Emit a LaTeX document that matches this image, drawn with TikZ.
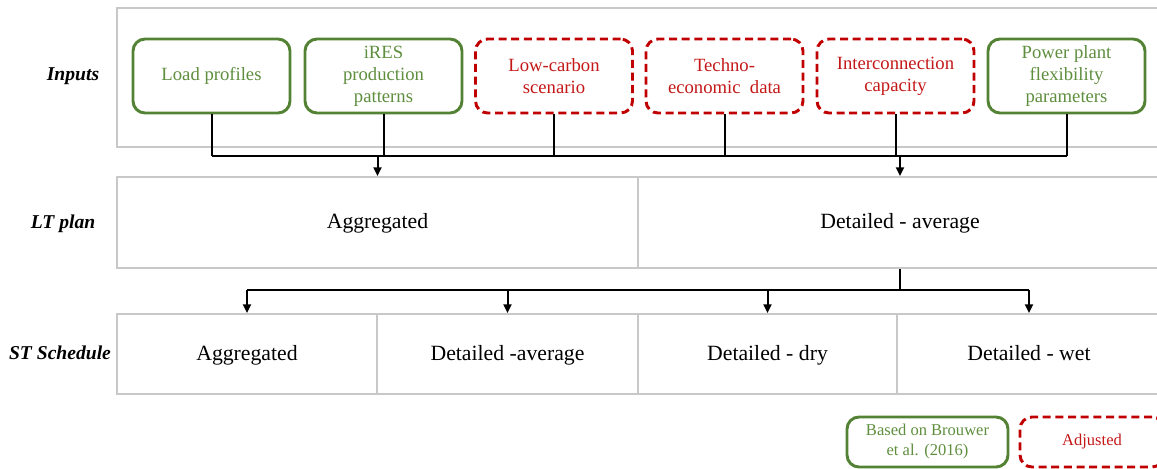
\documentclass[tikz,border=0pt]{standalone}
\usepackage{fontspec}
\setmainfont{Liberation Serif}
\usetikzlibrary{arrows.meta}
\definecolor{grn}{HTML}{548235}
\definecolor{grntxt}{HTML}{5E8E3E}
\definecolor{rd}{HTML}{C00000}
\definecolor{rdtxt}{HTML}{C41818}
\definecolor{gry}{HTML}{C8C8C8}
\tikzset{
  inbox/.style={draw=grn, line width=2.2pt, rounded corners=9pt, minimum width=117.75pt,
    minimum height=55.5pt, align=center, text=grntxt, inner sep=1pt,
    font=\fontsize{14}{16.5}\selectfont},
  adjbox/.style={inbox, draw=rd, text=rdtxt, dash pattern=on 6pt off 3.5pt},
  celltext/.style={font=\fontsize{16.3}{19}\selectfont, text height=11pt, text depth=2pt},
  cell/.style={draw=gry, line width=1.5pt, inner sep=0pt, celltext},
  frame/.style={draw=gry, line width=1.5pt, inner sep=0pt},
  lbl/.style={font=\fontsize{14.7}{17}\selectfont\bfseries\itshape},
  conn/.style={line width=1.5pt, black},
  arr/.style={conn, -{Triangle[length=6.5pt,width=6pt]}},
  legg/.style={inbox, font=\fontsize{12.4}{15}\selectfont, minimum width=120.75pt, minimum height=37.5pt},
  legr/.style={legg, draw=rd, text=rdtxt, dash pattern=on 6pt off 3.5pt, minimum width=108pt}
}
\begin{document}
\begin{tikzpicture}[x=0.75pt,y=-0.75pt]
\useasboundingbox (0,0) rectangle (1157,468);
\clip (0,0) rectangle (1157,468);
% frame of inputs
\node[frame, minimum width=782.25pt, minimum height=104.25pt] (frm) at (638.5,77.5) {};
% row labels
\node[lbl] (linp) at (73,76) {Inputs};
\node[lbl] (llt) at (63,224) {LT plan};
\node[lbl] (lst) at (60,353) {ST Schedule};
% inputs
\node[inbox] (in1) at (211.5,76) {Load profiles};
\node[inbox] (in2) at (383.5,76) {iRES\\production\\patterns};
\node[adjbox] (in3) at (554,76) {Low-carbon\\scenario};
\node[adjbox] (in4) at (724.5,76) {Techno-\\economic\ \ data};
\node[adjbox] (in5) at (895.5,76) {Interconnection\\capacity};
\node[inbox] (in6) at (1066.5,76) {Power plant\\flexibility\\parameters};
% LT plan
\node[cell, minimum width=390.75pt, minimum height=68.25pt] (lt1) at (377.5,222.5) {Aggregated};
\node[cell, minimum width=391.5pt, minimum height=68.25pt] (lt2) at (899,222.5) {};
\node[celltext] (lt2t) at (900,222.5) {Detailed - average};
% ST schedule
\node[cell, minimum width=195pt, minimum height=60pt] (st1) at (247,354) {Aggregated};
\node[cell, minimum width=195.75pt, minimum height=60pt] (st2) at (507.5,354) {Detailed -average};
\node[cell, minimum width=194.25pt, minimum height=60pt] (st3) at (767.5,354) {Detailed - dry};
\node[cell, minimum width=197.25pt, minimum height=60pt] (st4) at (1028.5,354) {};
\node[celltext] (st4t) at (1029,354) {Detailed - wet};
% legend
\node[legg] (lg1) at (927.5,442) {Based on Brouwer\\et al. (2016)};
\node[legr] (lg2) at (1092,442) {Adjusted};
% connectors top
\coordinate (bus) at (0,156);
\foreach \i in {1,...,6} {\draw[conn] (in\i.south) -- (in\i.south |- bus);}
\draw[conn] (in1.south |- bus) -- (in6.south |- bus);
\draw[arr] (lt1.north |- bus) -- (lt1.north);
\draw[arr] (lt2t.north |- bus) -- (lt2t.north |- lt2.north);
% connectors bottom
\coordinate (bus2) at (0,290);
\draw[conn] (lt2t.south |- lt2.south) -- (lt2t.south |- bus2);
\draw[conn, line width=1.8pt] (st1.north |- bus2) -- (st4t.north |- bus2);
\draw[arr] (st1.north |- bus2) -- (st1.north);
\draw[arr] (st2.north |- bus2) -- (st2.north);
\draw[arr] (st3.north |- bus2) -- (st3.north);
\draw[arr] (st4t.north |- bus2) -- (st4t.north |- st4.north);
\end{tikzpicture}
\end{document}
